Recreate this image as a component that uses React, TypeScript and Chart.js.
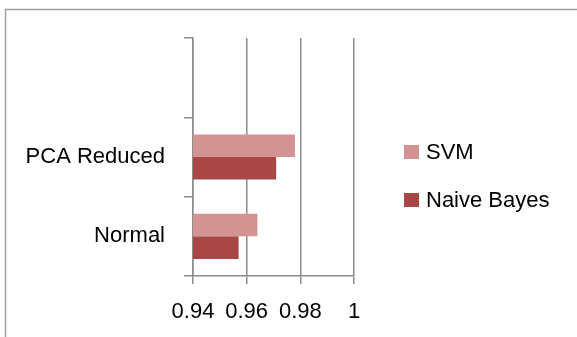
import React, { useEffect, useRef } from "react";
import { Chart, registerables } from "chart.js";

Chart.register(...registerables);

const categories = ["", "PCA Reduced", "Normal"];
const svmValues = [null, 0.978, 0.964];
const naiveBayesValues = [null, 0.971, 0.957];
const xTickLabels = ["0.94", "0.96", "0.98", "1"];
const seriesNames = ["SVM", "Naive Bayes"];
const seriesColors = ["#d39393", "#a94747"];

const FONT = "'Liberation Sans', Arial, sans-serif";

const frameAndLegend = {
  id: "frameAndLegend",
  afterDraw(chart: any) {
    const ctx = chart.ctx;
    ctx.save();
    ctx.strokeStyle = "#a0a0a0";
    ctx.lineWidth = 1.5;
    ctx.strokeRect(5.5, 9.5, 1000, 1000);
    const ds = chart.data.datasets;
    const rowY = [152, 200];
    ctx.font = `22px ${FONT}`;
    ctx.textBaseline = "middle";
    ctx.textAlign = "left";
    ds.forEach((d: any, i: number) => {
      ctx.fillStyle = d.backgroundColor;
      ctx.fillRect(404, rowY[i] - 7, 15, 14);
      ctx.fillStyle = "#000";
      ctx.fillText(d.label, 426, rowY[i] + 1);
    });
    ctx.restore();
  },
};

export default function App() {
  const ref = useRef<HTMLCanvasElement>(null);
  useEffect(() => {
    if (!ref.current) return;
    const chart = new Chart(ref.current, {
      type: "bar",
      data: {
        labels: categories,
        datasets: [
          {
            label: seriesNames[0],
            data: svmValues as any,
            backgroundColor: seriesColors[0],
            categoryPercentage: 0.57,
            barPercentage: 1,
          },
          {
            label: seriesNames[1],
            data: naiveBayesValues as any,
            backgroundColor: seriesColors[1],
            categoryPercentage: 0.57,
            barPercentage: 1,
          },
        ],
      },
      options: {
        indexAxis: "y",
        responsive: false,
        animation: false,
        layout: { padding: { left: 0, top: 38, right: 223, bottom: 0 } },
        plugins: { legend: { display: false }, tooltip: { enabled: false } },
        scales: {
          x: {
            min: 0.94,
            max: 1,
            ticks: {
              stepSize: 0.02,
              color: "#000",
              font: { family: FONT, size: 22 },
              padding: 15,
              callback: (_v: any, i: number) => xTickLabels[i],
            },
            grid: { color: "#8c8c8c", lineWidth: 1.5, tickLength: 8, drawOnChartArea: true },
            border: { color: "#8c8c8c", width: 1.5 },
            afterFit: (s: any) => {
              s.height = 61;
            },
          },
          y: {
            ticks: {
              color: "#000",
              font: { family: FONT, size: 22 },
              padding: 19,
            },
            grid: { color: "#8c8c8c", lineWidth: 1.5, tickLength: 9, drawOnChartArea: false, offset: true },
            border: { color: "#8c8c8c", width: 1.5 },
            afterFit: (s: any) => {
              s.width = 193;
            },
          },
        },
      },
      plugins: [frameAndLegend],
    });
    return () => chart.destroy();
  }, []);
  return (
    <div style={{ position: "fixed", left: 0, top: 0, width: 577, height: 337, background: "#fff", overflow: "hidden" }}>
      <canvas ref={ref} width={577} height={337} style={{ width: 577, height: 337, display: "block" }} />
    </div>
  );
}
